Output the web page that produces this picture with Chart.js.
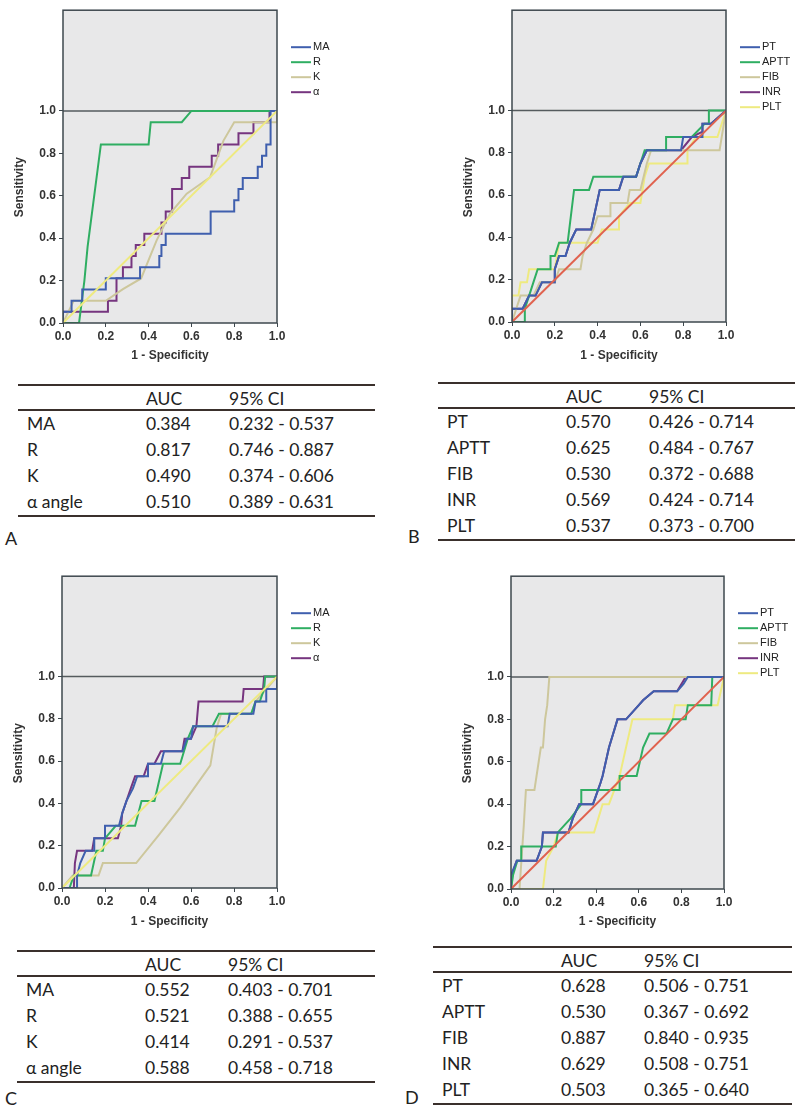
<!DOCTYPE html>
<html lang="en">
<head>
<meta charset="UTF-8">
<title>ROC curves</title>
<script src="https://cdn.jsdelivr.net/npm/chart.js"></script>
<style>
  * { margin: 0; padding: 0; box-sizing: border-box; }
  body { width: 800px; height: 1110px; background: #fff; position: relative; overflow: hidden;
         font-family: Lato, 'Open Sans', sans-serif; color: #222; }
  canvas { position: absolute; }
  .tbl { position: absolute; border-top: 2px solid #3a302c; border-bottom: 2px solid #3a302c; font-size: 17.5px; }
  .row { position: relative; height: 26px; }
  .row.head { height: 25px; border-bottom: 2px solid #3a302c; }
  .row span { position: absolute; top: 2px; white-space: nowrap; }
  .c1 { left: 9px; }
  .c2 { left: 128px; }
  .c3 { left: 211px; }
  .letter { position: absolute; font-size: 18px; }
</style>
</head>
<body>

<canvas id="rocA" width="380" height="370" style="left:0px; top:0px;"></canvas>
<canvas id="rocB" width="351" height="370" style="left:449px; top:0px;"></canvas>
<canvas id="rocC" width="380" height="370" style="left:-1px; top:566px;"></canvas>
<canvas id="rocD" width="352" height="370" style="left:448px; top:566px;"></canvas>

<div id="tabA" class="tbl" style="left:18px; top:384px; width:357px;"></div>
<div id="tabB" class="tbl" style="left:438px; top:382px; width:357px;"></div>
<div id="tabC" class="tbl" style="left:17px; top:950px; width:358px;"></div>
<div id="tabD" class="tbl" style="left:433px; top:946px; width:359px;"></div>

<div class="letter" style="left:5px; top:527px;">A</div>
<div class="letter" style="left:408px; top:525px;">B</div>
<div class="letter" style="left:5px; top:1087px;">C</div>
<div class="letter" style="left:405px; top:1086px;">D</div>

<script>
// tick labels shared by every panel
const tickVals = [0, 0.2, 0.4, 0.6, 0.8, 1.0];

// ---- panel A (TEG: MA, R, K, alpha) ----
const namesTEG = ['MA', 'R', 'K', 'α'];
const rocA_MA = [[0,0],[0,0.053],[0.04,0.053],[0.04,0.105],[0.09,0.105],[0.09,0.158],[0.2,0.158],[0.2,0.211],[0.36,0.211],[0.36,0.263],[0.45,0.263],[0.45,0.316],[0.46,0.316],[0.46,0.368],[0.48,0.368],[0.48,0.421],[0.69,0.421],[0.69,0.526],[0.8,0.526],[0.8,0.579],[0.82,0.579],[0.82,0.632],[0.84,0.632],[0.84,0.684],[0.91,0.684],[0.91,0.737],[0.93,0.737],[0.93,0.789],[0.95,0.789],[0.95,0.842],[0.97,0.842],[0.97,1],[1,1]];
const rocA_R = [[0,0],[0.075,0],[0.1,0.2],[0.115,0.36],[0.177,0.842],[0.4,0.842],[0.41,0.947],[0.555,0.947],[0.6,1],[1,1]];
const rocA_K = [[0,0],[0.05,0.105],[0.2,0.105],[0.28,0.16],[0.365,0.21],[0.4375,0.39],[0.5,0.516],[0.578,0.61],[0.6875,0.6875],[0.75,0.86],[0.8,0.947],[1,0.947],[1,1]];
const rocA_Alpha = [[0,0],[0,0.053],[0.21,0.053],[0.21,0.105],[0.25,0.105],[0.25,0.211],[0.28,0.211],[0.28,0.263],[0.32,0.263],[0.32,0.316],[0.34,0.316],[0.34,0.368],[0.38,0.368],[0.38,0.421],[0.46,0.421],[0.46,0.474],[0.48,0.474],[0.48,0.526],[0.51,0.526],[0.51,0.632],[0.555,0.632],[0.555,0.684],[0.59,0.684],[0.59,0.737],[0.695,0.737],[0.695,0.789],[0.725,0.789],[0.725,0.842],[0.82,0.842],[0.82,0.895],[0.89,0.895],[0.89,0.947],[0.965,0.947],[0.965,1],[1,1]];

// ---- panel B (coagulation: PT, APTT, FIB, INR, PLT) ----
const namesCoag = ['PT', 'APTT', 'FIB', 'INR', 'PLT'];
const rocB_PT = [[0,0],[0,0.0625],[0.05,0.0625],[0.08,0.125],[0.11,0.125],[0.14,0.1875],[0.2,0.1875],[0.2,0.25],[0.22,0.3125],[0.25,0.3125],[0.27,0.375],[0.3,0.4375],[0.37,0.4375],[0.41,0.625],[0.5,0.625],[0.52,0.6875],[0.58,0.6875],[0.6,0.75],[0.63,0.8125],[0.79,0.8125],[0.8,0.875],[0.82,0.875],[0.89,0.875],[0.89,0.9375],[0.93,0.9375],[1,1]];
const rocB_APTT = [[0,0],[0.06,0],[0.06,0.0625],[0.08,0.125],[0.1,0.1875],[0.12,0.25],[0.18,0.25],[0.18,0.3125],[0.2,0.3125],[0.22,0.375],[0.26,0.375],[0.29,0.625],[0.36,0.625],[0.38,0.6875],[0.58,0.6875],[0.6,0.75],[0.62,0.8125],[0.72,0.8125],[0.72,0.875],[0.84,0.875],[0.9,0.9375],[0.92,0.9375],[0.92,1],[1,1]];
const rocB_FIB = [[0,0],[0.02,0.0625],[0.04,0.125],[0.1,0.125],[0.13,0.1875],[0.2,0.1875],[0.22,0.25],[0.32,0.25],[0.33,0.3125],[0.35,0.375],[0.38,0.4375],[0.4,0.5],[0.46,0.5],[0.46,0.5625],[0.54,0.5625],[0.55,0.625],[0.6,0.625],[0.63,0.75],[0.65,0.8125],[0.97,0.8125],[1,1]];
const rocB_INR = [[0,0],[0,0.0625],[0.05,0.0625],[0.08,0.125],[0.11,0.125],[0.14,0.1875],[0.2,0.1875],[0.2,0.25],[0.22,0.3125],[0.25,0.3125],[0.27,0.375],[0.3,0.4375],[0.37,0.4375],[0.41,0.625],[0.5,0.625],[0.52,0.6875],[0.58,0.6875],[0.6,0.75],[0.63,0.8125],[0.79,0.8125],[0.84,0.875],[0.89,0.9],[0.89,0.9375],[0.93,0.9375],[1,1]];
const rocB_PLT = [[0,0],[0,0.125],[0.03,0.125],[0.04,0.1875],[0.07,0.1875],[0.08,0.25],[0.2,0.25],[0.21,0.3125],[0.22,0.375],[0.4,0.375],[0.42,0.4375],[0.5,0.4375],[0.5,0.5],[0.55,0.5625],[0.6,0.5625],[0.62,0.6875],[0.64,0.75],[0.82,0.75],[0.82,0.8125],[0.86,0.875],[0.96,0.875],[1,1]];

// ---- panel C (TEG) ----
const rocC_MA = [[0,0],[0.07,0],[0.07,0.059],[0.085,0.118],[0.11,0.176],[0.15,0.176],[0.15,0.235],[0.2,0.235],[0.2,0.294],[0.265,0.294],[0.28,0.353],[0.3,0.412],[0.33,0.471],[0.35,0.529],[0.4,0.529],[0.4,0.588],[0.46,0.588],[0.475,0.647],[0.56,0.647],[0.58,0.706],[0.6,0.706],[0.61,0.765],[0.77,0.765],[0.78,0.824],[0.89,0.824],[0.9,0.882],[0.95,0.882],[0.95,0.941],[1,0.941],[1,1]];
const rocC_R = [[0,0],[0.035,0],[0.055,0.059],[0.135,0.059],[0.16,0.176],[0.19,0.176],[0.2,0.235],[0.25,0.294],[0.34,0.294],[0.37,0.412],[0.43,0.412],[0.47,0.588],[0.55,0.588],[0.585,0.706],[0.61,0.765],[0.7,0.765],[0.73,0.824],[0.88,0.824],[0.9,0.882],[0.92,0.882],[0.94,0.941],[0.945,1],[1,1]];
const rocC_K = [[0,0],[0.05,0.059],[0.17,0.059],[0.19,0.118],[0.345,0.118],[0.45,0.25],[0.55,0.38],[0.69,0.58],[0.72,0.76],[0.74,0.824],[0.88,0.824],[0.9,0.882],[0.95,0.941],[1,1]];
const rocC_Alpha = [[0,0],[0.055,0],[0.06,0.118],[0.07,0.176],[0.14,0.176],[0.15,0.235],[0.26,0.235],[0.275,0.294],[0.28,0.353],[0.3,0.412],[0.32,0.471],[0.34,0.529],[0.38,0.529],[0.4,0.588],[0.43,0.588],[0.46,0.647],[0.56,0.647],[0.57,0.706],[0.6,0.706],[0.625,0.765],[0.63,0.824],[0.635,0.882],[0.84,0.882],[0.845,0.941],[0.935,0.941],[0.94,1],[1,1]];

// ---- panel D (coagulation) ----
const rocD_PT = [[0,0],[0,0.067],[0.027,0.133],[0.12,0.133],[0.145,0.2],[0.15,0.267],[0.27,0.267],[0.29,0.333],[0.32,0.4],[0.385,0.4],[0.42,0.5],[0.43,0.533],[0.46,0.667],[0.48,0.733],[0.5,0.8],[0.54,0.8],[0.6,0.867],[0.62,0.89],[0.67,0.933],[0.78,0.933],[0.81,0.967],[0.83,1],[1,1]];
const rocD_APTT = [[0,0],[0.01,0.067],[0.03,0.133],[0.048,0.133],[0.048,0.2],[0.21,0.2],[0.22,0.267],[0.28,0.333],[0.33,0.4],[0.33,0.467],[0.51,0.467],[0.51,0.533],[0.59,0.533],[0.62,0.667],[0.65,0.733],[0.73,0.733],[0.76,0.8],[0.82,0.8],[0.83,0.867],[0.94,0.867],[0.945,1],[1,1]];
const rocD_FIB = [[0,0],[0.04,0],[0.06,0.3],[0.07,0.467],[0.11,0.467],[0.13,0.6],[0.14,0.667],[0.15,0.667],[0.16,0.8],[0.17,0.867],[0.18,1],[1,1]];
const rocD_INR = [[0,0],[0.005,0.067],[0.027,0.133],[0.12,0.133],[0.145,0.2],[0.15,0.267],[0.27,0.267],[0.29,0.333],[0.32,0.4],[0.385,0.4],[0.42,0.5],[0.43,0.533],[0.46,0.667],[0.48,0.733],[0.5,0.8],[0.54,0.8],[0.6,0.867],[0.62,0.89],[0.67,0.933],[0.78,0.933],[0.82,1],[1,1]];
const rocD_PLT = [[0,0],[0.15,0],[0.165,0.133],[0.2,0.2],[0.22,0.267],[0.39,0.267],[0.41,0.333],[0.43,0.4],[0.46,0.4],[0.51,0.533],[0.54,0.667],[0.57,0.8],[0.76,0.8],[0.77,0.867],[0.97,0.867],[1,1]];

// reference diagonal
const refLine = [[0,0],[1,1]];

// ---- tables ----
const rowsTEG = ['MA', 'R', 'K', 'α angle'];
const rowsCoag = ['PT', 'APTT', 'FIB', 'INR', 'PLT'];
const aucA = [0.384, 0.817, 0.490, 0.510];
const ciLowA = [0.232, 0.746, 0.374, 0.389];
const ciHighA = [0.537, 0.887, 0.606, 0.631];
const aucB = [0.570, 0.625, 0.530, 0.569, 0.537];
const ciLowB = [0.426, 0.484, 0.372, 0.424, 0.373];
const ciHighB = [0.714, 0.767, 0.688, 0.714, 0.700];
const aucC = [0.552, 0.521, 0.414, 0.588];
const ciLowC = [0.403, 0.388, 0.291, 0.458];
const ciHighC = [0.701, 0.655, 0.537, 0.718];
const aucD = [0.628, 0.530, 0.887, 0.629, 0.503];
const ciLowD = [0.506, 0.367, 0.840, 0.508, 0.365];
const ciHighD = [0.751, 0.692, 0.935, 0.751, 0.640];

// colours (SPSS default-ish)
const cBlue = '#3f5fae', cGreen = '#2fae62', cTan = '#cdc79c', cPurple = '#76357f', cYellow = '#eeea80', cRed = '#e0624f';
const frameColor = '#3e484e';
const textColor = '#333';
</script>

<script>
const axisFont = { family: "'Liberation Sans', Arial, sans-serif", size: 12, weight: 'bold' };

// background, frame, 1.0 line, legend and y title
const rocFrame = {
    id: 'rocFrame',
    beforeDraw(chart) {
        const { ctx, chartArea: a } = chart;
        ctx.save();
        ctx.fillStyle = '#e8e8e9';
        ctx.fillRect(a.left, a.top, a.right - a.left, a.bottom - a.top);
        ctx.restore();
    },
    beforeDatasetsDraw(chart) {
        const { ctx, chartArea: a, scales } = chart;
        const y1 = scales.y.getPixelForValue(1);
        ctx.save();
        ctx.strokeStyle = '#555b5e';
        ctx.lineWidth = 1.5;
        ctx.beginPath();
        ctx.moveTo(a.left, y1);
        ctx.lineTo(a.right, y1);
        ctx.stroke();
        ctx.restore();
    },
    afterDraw(chart) {
        const { ctx, chartArea: a } = chart;
        ctx.save();
        ctx.strokeStyle = frameColor;
        ctx.lineWidth = 1.5;
        ctx.strokeRect(a.left, a.top, a.right - a.left, a.bottom - a.top);

        // legend
        ctx.font = "11px 'Liberation Sans', Arial, sans-serif";
        ctx.textBaseline = 'middle';
        ctx.fillStyle = '#222';
        chart.data.datasets.filter(d => !d.isRef).forEach((d, i) => {
            const y = a.top + 37 + i * 15;
            ctx.strokeStyle = d.borderColor;
            ctx.lineWidth = 2;
            ctx.beginPath();
            ctx.moveTo(a.right + 14, y);
            ctx.lineTo(a.right + 34, y);
            ctx.stroke();
            ctx.fillText(d.label, a.right + 36, y);
        });

        // y axis title
        ctx.translate(a.left - 43, a.top + 177);
        ctx.rotate(-Math.PI / 2);
        ctx.textAlign = 'center';
        ctx.font = "bold 12px 'Liberation Sans', Arial, sans-serif";
        ctx.fillStyle = textColor;
        ctx.fillText('Sensitivity', 0, 0);
        ctx.restore();
    }
};

function makeRoc(canvasId, boxW, boxH, series, names, colors, refColor) {
    const canvas = document.getElementById(canvasId);
    const datasets = [{
        label: '', isRef: true,
        data: refLine.map(p => ({ x: p[0], y: p[1] })),
        borderColor: refColor, borderWidth: 2
    }];
    series.forEach((s, i) => {
        datasets.push({
            label: names[i],
            data: s.map(p => ({ x: p[0], y: p[1] })),
            borderColor: colors[i],
            borderWidth: 2
        });
    });

    return new Chart(canvas, {
        type: 'line',
        data: { datasets: datasets },
        plugins: [rocFrame],
        options: {
            responsive: false,
            animation: false,
            layout: { padding: { left: 0, top: 7, right: canvas.width - 63 - boxW, bottom: 0 } },
            elements: { point: { radius: 0 }, line: { tension: 0, fill: false } },
            plugins: { legend: { display: false }, tooltip: { enabled: false } },
            scales: {
                x: {
                    type: 'linear', min: 0, max: 1,
                    afterFit: s => { s.height = canvas.height - 7 - boxH; },
                    afterBuildTicks: s => { s.ticks = tickVals.map(v => ({ value: v })); },
                    ticks: { callback: v => v.toFixed(1), font: axisFont, color: textColor, padding: 2, maxRotation: 0 },
                    grid: { drawOnChartArea: false, tickLength: 4, color: frameColor },
                    border: { display: false },
                    title: { display: true, text: '1 - Specificity', font: axisFont, color: textColor, padding: { bottom: 7 } }
                },
                y: {
                    type: 'linear', min: 0, max: 1.475,
                    afterFit: s => { s.width = 63; },
                    afterBuildTicks: s => { s.ticks = tickVals.map(v => ({ value: v })); },
                    ticks: { callback: v => v.toFixed(1), font: axisFont, color: textColor, padding: 3 },
                    grid: { drawOnChartArea: false, tickLength: 4, color: frameColor },
                    border: { display: false }
                }
            }
        }
    });
}

function makeTable(elId, rows, auc, lo, hi) {
    let html = '<div class="row head"><span class="c2">AUC</span><span class="c3">95% CI</span></div>';
    rows.forEach((r, i) => {
        html += '<div class="row"><span class="c1">' + r + '</span><span class="c2">' + auc[i].toFixed(3) +
            '</span><span class="c3">' + lo[i].toFixed(3) + ' - ' + hi[i].toFixed(3) + '</span></div>';
    });
    document.getElementById(elId).innerHTML = html;
}

const colorsTEG = [cBlue, cGreen, cTan, cPurple];
const colorsCoag = [cBlue, cGreen, cTan, cPurple, cYellow];

makeRoc('rocA', 214, 316, [rocA_MA, rocA_R, rocA_K, rocA_Alpha], namesTEG, colorsTEG, cYellow);
makeRoc('rocB', 214, 315, [rocB_PT, rocB_APTT, rocB_FIB, rocB_INR, rocB_PLT], namesCoag, colorsCoag, cRed);
makeRoc('rocC', 215, 315, [rocC_MA, rocC_R, rocC_K, rocC_Alpha], namesTEG, colorsTEG, cYellow);
makeRoc('rocD', 213, 316, [rocD_PT, rocD_APTT, rocD_FIB, rocD_INR, rocD_PLT], namesCoag, colorsCoag, cRed);

makeTable('tabA', rowsTEG, aucA, ciLowA, ciHighA);
makeTable('tabB', rowsCoag, aucB, ciLowB, ciHighB);
makeTable('tabC', rowsTEG, aucC, ciLowC, ciHighC);
makeTable('tabD', rowsCoag, aucD, ciLowD, ciHighD);
</script>
</body>
</html>
